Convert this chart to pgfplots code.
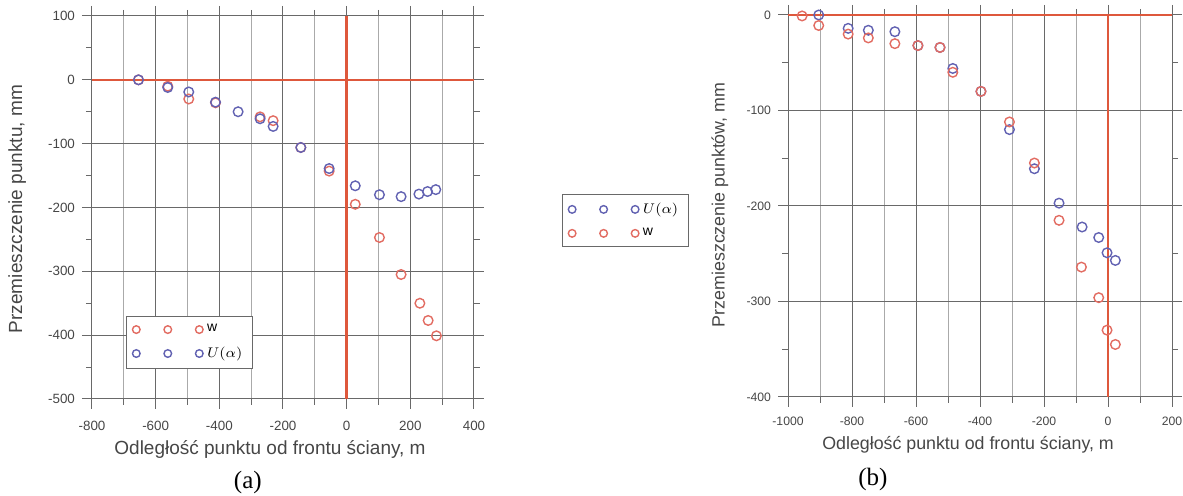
\documentclass[border=0pt]{standalone}
\usepackage{fontspec}
\setmainfont{Liberation Sans}
\newfontfamily\capfont{Liberation Serif}
\usepackage{pgfplots}
\pgfplotsset{compat=1.18}

\definecolor{mred}{RGB}{226,108,98}
\definecolor{mblue}{RGB}{98,98,178}
\definecolor{lred}{RGB}{222,88,60}
\definecolor{gmaj}{RGB}{105,105,105}
\definecolor{gmin}{RGB}{170,170,170}
\definecolor{txt}{RGB}{70,70,70}

\pgfplotsset{
  mystyle/.style={
    scale only axis,
    axis line style={gmaj, line width=0.5pt},
    tick align=outside, major tick length=5pt, minor tick length=3pt,
    every tick/.style={gmaj, line width=0.5pt},
    xmajorgrids, xminorgrids, ymajorgrids,
    major grid style={gmaj, line width=0.5pt},
    minor grid style={gmin, line width=0.4pt},
    minor x tick num=1, minor y tick num=1,
    /pgf/number format/assume math mode=true,
    /pgf/number format/1000 sep={},
    ticklabel style={text=txt},
    label style={text=txt},
    clip=false,
    legend cell align=left,
  },
  three/.style={legend image code/.code={
    \draw[##1, only marks, mark size=1.9pt] plot coordinates {(0pt,0pt) (15.75pt,0pt) (31.5pt,0pt)};}},
  wmark/.style={only marks, mark=o, mark size=2.4pt, mred, mark options={line width=0.7pt}, three},
  umark/.style={only marks, mark=o, mark size=2.4pt, mblue, mark options={line width=0.7pt}, three},
  redline/.style={lred, line width=1.3pt, forget plot},
}

\begin{document}
\begin{tikzpicture}
\path[use as bounding box] (0,0) rectangle (591.5pt,-248pt);

% ---------------- (a) ----------------
\begin{axis}[mystyle,
  at={(46pt,-8pt)}, anchor=north west,
  width=191pt, height=191.5pt,
  xmin=-800, xmax=400, ymin=-500, ymax=100,
  xtick distance=200, ytick distance=100,
  ticklabel style={font=\fontsize{6.7}{7}\selectfont},
  xticklabel style={yshift=-2.3pt},
  label style={font=\fontsize{9.5}{11}\selectfont},
  xlabel={Odległość punktu od frontu ściany, m},
  ylabel={Przemieszczenie punktu, mm},
  xlabel style={at={(axis description cs:0.466,-0.133)}, anchor=center},
  ylabel style={at={(axis description cs:-0.196,0.496)}, anchor=center},
  legend style={at={(axis description cs:0.089,0.217)}, anchor=north west,
    draw=gmaj, line width=0.5pt, fill=white, font=\fontsize{7}{8}\selectfont,
    inner xsep=3pt, inner ysep=2pt, row sep=2pt},
]
\addplot[redline] coordinates {(-800,0) (400,0)};
\addplot[redline] coordinates {(0,-500) (0,100)};
\addplot[wmark] coordinates {
(-654,0) (-562,-10) (-496,-30) (-412,-36) (-272,-58) (-231,-64) (-144,-106)
(-55,-143) (27,-195) (103,-247) (171,-305) (230,-350) (256,-377) (282,-401)};
\addlegendentry{w}
\addplot[umark] coordinates {
(-654,0) (-562,-12) (-496,-19) (-412,-35) (-341,-50) (-272,-61) (-231,-73)
(-144,-106) (-55,-139) (27,-166) (103,-180) (171,-183) (227,-179) (254,-175) (280,-172)};
\addlegendentry{$U(\alpha)$}
\node[font=\capfont\fontsize{12.5}{14}\selectfont, text=black] at (axis description cs:0.408,-0.219) {(a)};
\end{axis}

% ---------------- (b) ----------------
\begin{axis}[mystyle,
  at={(394pt,-7.5pt)}, anchor=north west,
  width=192pt, height=191pt,
  xmin=-1000, xmax=200, ymin=-400, ymax=0,
  xtick distance=200, ytick distance=100,
  ticklabel style={font=\fontsize{6.1}{7}\selectfont},
  xticklabel style={yshift=-1.5pt},
  label style={font=\fontsize{8.9}{10}\selectfont},
  xlabel={Odległość punktu od frontu ściany, m},
  ylabel={Przemieszczenie punktów, mm},
  xlabel style={at={(axis description cs:0.469,-0.126)}, anchor=center},
  ylabel style={at={(axis description cs:-0.177,0.503)}, anchor=center},
  legend style={at={(axis description cs:-0.589,0.531)}, anchor=north west,
    draw=gmaj, line width=0.5pt, fill=white, font=\fontsize{7}{8}\selectfont,
    inner xsep=3pt, inner ysep=2pt, row sep=2pt},
]
\addplot[redline] coordinates {(-1000,0) (200,0)};
\addplot[redline] coordinates {(0,-400) (0,0)};
\addplot[umark] coordinates {
(-904,0) (-812,-14) (-749,-16) (-666,-17.5) (-594,-32) (-525,-34) (-485,-56)
(-397,-80) (-308,-120) (-230,-161) (-153,-197) (-81,-222) (-29,-233) (-3,-249) (23,-257)};
\addlegendentry{$U(\alpha)$}
\addplot[wmark] coordinates {
(-956,-1) (-904,-11) (-812,-20) (-749,-24) (-666,-30) (-594,-32) (-525,-34) (-485,-60)
(-397,-80) (-308,-112) (-230,-155) (-153,-215) (-83,-264) (-29,-296) (-3,-330) (23,-345)};
\addlegendentry{w}
\node[font=\capfont\fontsize{12.5}{14}\selectfont, text=black] at (axis description cs:0.221,-0.217) {(b)};
\end{axis}
\end{tikzpicture}
\end{document}
